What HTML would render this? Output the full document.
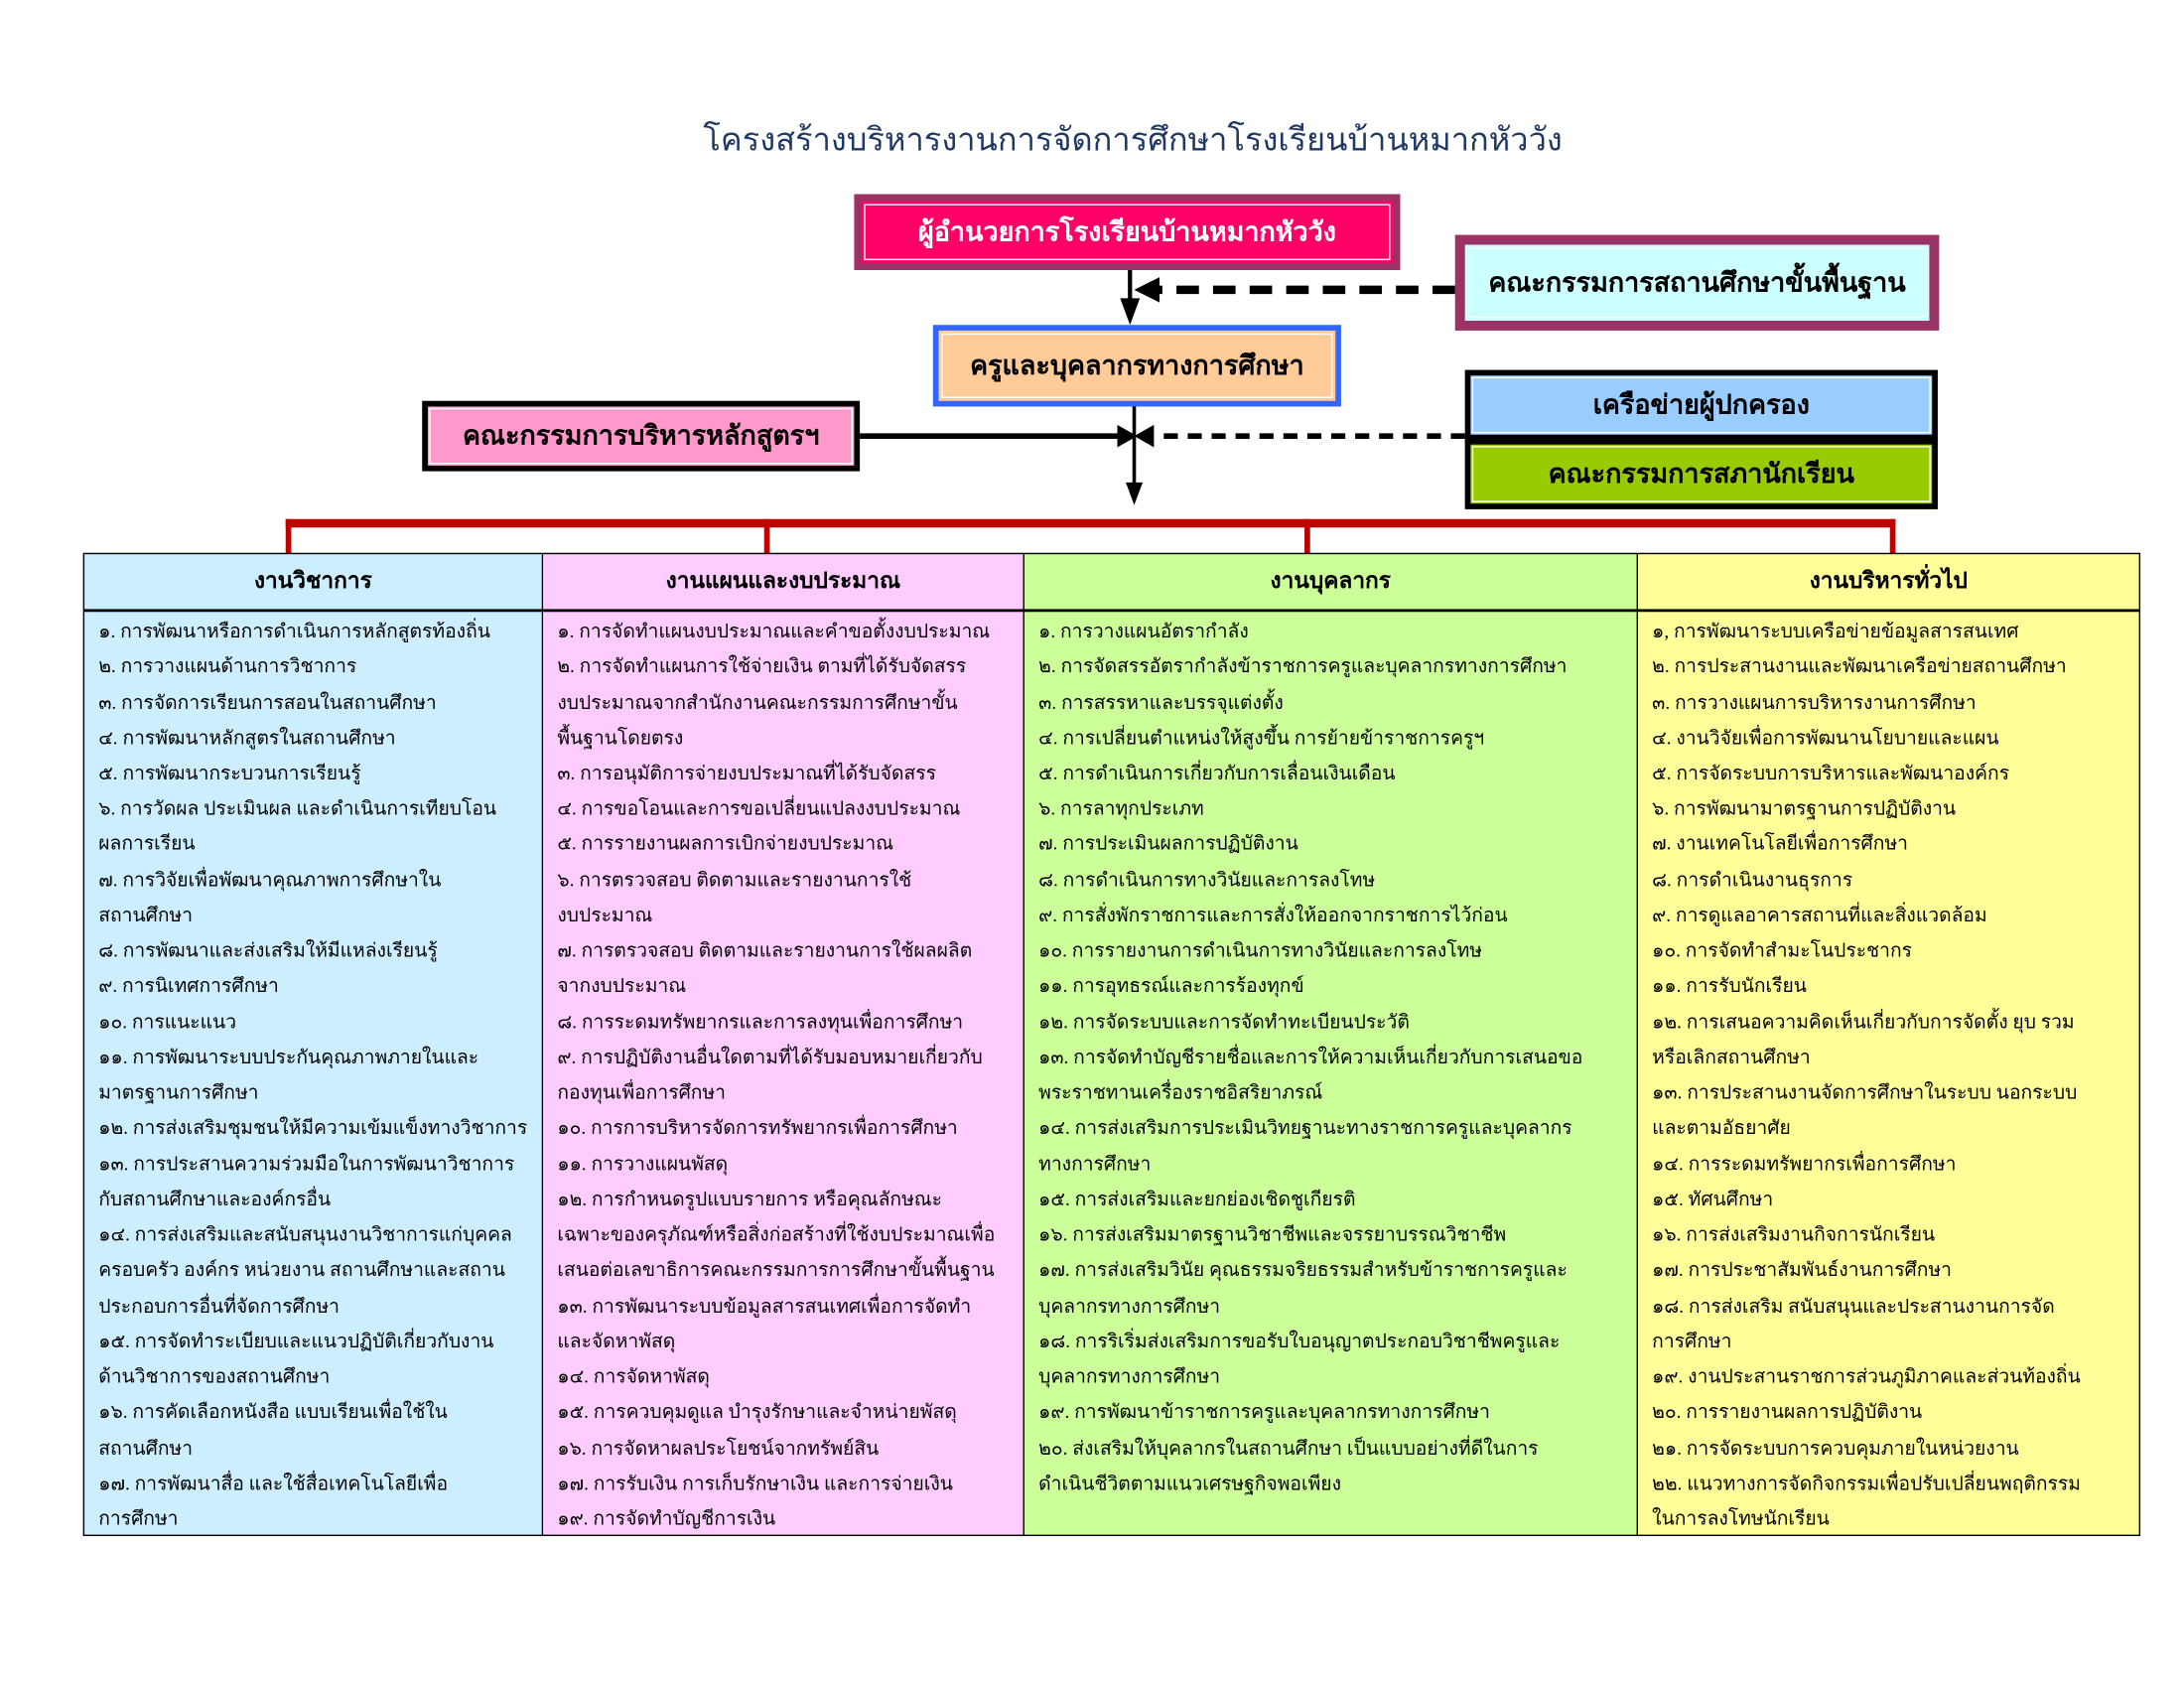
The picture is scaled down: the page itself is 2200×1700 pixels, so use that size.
<!DOCTYPE html>
<html><head><meta charset="utf-8">
<style>
html,body{margin:0;padding:0;background:#fff;}
body{width:2200px;height:1700px;overflow:hidden;position:relative;}
#s{position:absolute;left:0;top:0;width:1552px;height:1200px;transform:scale(1.41753,1.41667);transform-origin:0 0;font-family:"Liberation Serif","DejaVu Sans",serif;}
.a{position:absolute;}
.box{position:absolute;box-sizing:border-box;display:flex;align-items:center;justify-content:center;font-weight:bold;font-size:19px;white-space:nowrap;}
.col{position:absolute;top:394px;height:697px;box-sizing:border-box;}
.hd{position:absolute;left:0;right:0;top:0;height:39px;border-bottom:2px solid #000;text-align:center;line-height:40px;font-size:16px;font-weight:bold;}
.ln{position:absolute;left:10px;white-space:nowrap;font-size:13.6px;line-height:25.24px;height:25.24px;}
</style></head><body><div id="s">
<div class="a" style="left:0;top:82px;width:1610px;text-align:center;font-size:23px;color:#1f3864;">โครงสร้างบริหารงานการจัดการศึกษาโรงเรียนบ้านหมากหัววัง</div>

<div class="box" style="left:607px;top:138px;width:388px;height:54px;background:#ff0066;border:5px solid #993366;outline:1px solid #fff;outline-offset:-8px;color:#fff;">ผู้อำนวยการโรงเรียนบ้านหมากหัววัง</div>
<div class="box" style="left:1034px;top:167px;width:344px;height:68px;background:#ccffff;border:7px solid #993366;outline:1px solid #fff;outline-offset:-10px;color:#000;">คณะกรรมการสถานศึกษาขั้นพื้นฐาน</div>
<div class="box" style="left:663px;top:231px;width:290px;height:58px;background:#ffcc99;border:4px solid #3366ff;outline:1px solid #fff;outline-offset:-7px;">ครูและบุคลากรทางการศึกษา</div>
<div class="box" style="left:300px;top:285px;width:311px;height:50px;background:#ff99cc;border:4px solid #000;outline:1px solid #fff;outline-offset:-6px;">คณะกรรมการบริหารหลักสูตรฯ</div>
<div class="box" style="left:1041px;top:263px;width:336px;height:50px;background:#99ccff;border:4px solid #000;outline:1px solid #fff;outline-offset:-6px;">เครือข่ายผู้ปกครอง</div>
<div class="box" style="left:1041px;top:312px;width:336px;height:50px;background:#99cc00;border:4px solid #000;outline:1px solid #fff;outline-offset:-6px;">คณะกรรมการสภานักเรียน</div>

<svg class="a" style="left:0;top:0" width="1552" height="420">
<line x1="803" y1="192" x2="803" y2="214" stroke="#000" stroke-width="3"/>
<polygon points="796,212 810,212 803,231" fill="#000"/>
<line x1="1034" y1="206" x2="822" y2="206" stroke="#000" stroke-width="6" stroke-dasharray="16,10"/>
<polygon points="824,197 824,215 806,206" fill="#000"/>
<line x1="806" y1="289" x2="806" y2="345" stroke="#000" stroke-width="2.5"/>
<polygon points="800,343 812,343 806,359" fill="#000"/>
<line x1="611" y1="310" x2="796" y2="310" stroke="#000" stroke-width="4"/>
<polygon points="794,302 794,318 808,310" fill="#000"/>
<line x1="1041" y1="310" x2="822" y2="310" stroke="#000" stroke-width="4" stroke-dasharray="10,7"/>
<polygon points="820,302 820,318 806,310" fill="#000"/>
<line x1="203" y1="372" x2="1347" y2="372" stroke="#c00000" stroke-width="6"/>
<g stroke="#c00000" stroke-width="4"><line x1="205" y1="369" x2="205" y2="395"/><line x1="545" y1="369" x2="545" y2="395"/><line x1="929" y1="369" x2="929" y2="395"/><line x1="1345" y1="369" x2="1345" y2="395"/></g>
</svg>

<div class="a" style="left:59px;top:393px;width:1462px;height:699px;border:2px solid #000;box-sizing:border-box;"></div>

<div class="col" style="left:60px;width:326px;background:#cceeff;border-right:1px solid #000;">
<div class="hd">งานวิชาการ</div>
<div class="ln" style="top:42px">๑.  การพัฒนาหรือการดำเนินการหลักสูตรท้องถิ่น</div>
<div class="ln" style="top:67.2px">๒.  การวางแผนด้านการวิชาการ</div>
<div class="ln" style="top:92.5px">๓.  การจัดการเรียนการสอนในสถานศึกษา</div>
<div class="ln" style="top:117.7px">๔.  การพัฒนาหลักสูตรในสถานศึกษา</div>
<div class="ln" style="top:143px">๕.  การพัฒนากระบวนการเรียนรู้</div>
<div class="ln" style="top:168.2px">๖.  การวัดผล ประเมินผล และดำเนินการเทียบโอน</div>
<div class="ln" style="top:193.4px">ผลการเรียน</div>
<div class="ln" style="top:218.7px">๗.  การวิจัยเพื่อพัฒนาคุณภาพการศึกษาใน</div>
<div class="ln" style="top:243.9px">สถานศึกษา</div>
<div class="ln" style="top:269.2px">๘.  การพัฒนาและส่งเสริมให้มีแหล่งเรียนรู้</div>
<div class="ln" style="top:294.4px">๙.  การนิเทศการศึกษา</div>
<div class="ln" style="top:319.6px">๑๐.  การแนะแนว</div>
<div class="ln" style="top:344.9px">๑๑.  การพัฒนาระบบประกันคุณภาพภายในและ</div>
<div class="ln" style="top:370.1px">มาตรฐานการศึกษา</div>
<div class="ln" style="top:395.4px">๑๒.  การส่งเสริมชุมชนให้มีความเข้มแข็งทางวิชาการ</div>
<div class="ln" style="top:420.6px">๑๓.  การประสานความร่วมมือในการพัฒนาวิชาการ</div>
<div class="ln" style="top:445.8px">กับสถานศึกษาและองค์กรอื่น</div>
<div class="ln" style="top:471.1px">๑๔.  การส่งเสริมและสนับสนุนงานวิชาการแก่บุคคล</div>
<div class="ln" style="top:496.3px">ครอบครัว องค์กร หน่วยงาน สถานศึกษาและสถาน</div>
<div class="ln" style="top:521.6px">ประกอบการอื่นที่จัดการศึกษา</div>
<div class="ln" style="top:546.8px">๑๕.  การจัดทำระเบียบและแนวปฏิบัติเกี่ยวกับงาน</div>
<div class="ln" style="top:572px">ด้านวิชาการของสถานศึกษา</div>
<div class="ln" style="top:597.3px">๑๖.  การคัดเลือกหนังสือ แบบเรียนเพื่อใช้ใน</div>
<div class="ln" style="top:622.5px">สถานศึกษา</div>
<div class="ln" style="top:647.8px">๑๗.  การพัฒนาสื่อ และใช้สื่อเทคโนโลยีเพื่อ</div>
<div class="ln" style="top:673px">การศึกษา</div>
</div>

<div class="col" style="left:386px;width:342px;background:#ffccff;border-right:1px solid #000;">
<div class="hd">งานแผนและงบประมาณ</div>
<div class="ln" style="top:42px">๑.  การจัดทำแผนงบประมาณและคำขอตั้งงบประมาณ</div>
<div class="ln" style="top:67.2px">๒.  การจัดทำแผนการใช้จ่ายเงิน ตามที่ได้รับจัดสรร</div>
<div class="ln" style="top:92.5px">งบประมาณจากสำนักงานคณะกรรมการศึกษาขั้น</div>
<div class="ln" style="top:117.7px">พื้นฐานโดยตรง</div>
<div class="ln" style="top:143px">๓.  การอนุมัติการจ่ายงบประมาณที่ได้รับจัดสรร</div>
<div class="ln" style="top:168.2px">๔.  การขอโอนและการขอเปลี่ยนแปลงงบประมาณ</div>
<div class="ln" style="top:193.4px">๕.  การรายงานผลการเบิกจ่ายงบประมาณ</div>
<div class="ln" style="top:218.7px">๖.  การตรวจสอบ ติดตามและรายงานการใช้</div>
<div class="ln" style="top:243.9px">งบประมาณ</div>
<div class="ln" style="top:269.2px">๗.  การตรวจสอบ ติดตามและรายงานการใช้ผลผลิต</div>
<div class="ln" style="top:294.4px">จากงบประมาณ</div>
<div class="ln" style="top:319.6px">๘.  การระดมทรัพยากรและการลงทุนเพื่อการศึกษา</div>
<div class="ln" style="top:344.9px">๙.  การปฏิบัติงานอื่นใดตามที่ได้รับมอบหมายเกี่ยวกับ</div>
<div class="ln" style="top:370.1px">กองทุนเพื่อการศึกษา</div>
<div class="ln" style="top:395.4px">๑๐.  การการบริหารจัดการทรัพยากรเพื่อการศึกษา</div>
<div class="ln" style="top:420.6px">๑๑.  การวางแผนพัสดุ</div>
<div class="ln" style="top:445.8px">๑๒.  การกำหนดรูปแบบรายการ หรือคุณลักษณะ</div>
<div class="ln" style="top:471.1px">เฉพาะของครุภัณฑ์หรือสิ่งก่อสร้างที่ใช้งบประมาณเพื่อ</div>
<div class="ln" style="top:496.3px">เสนอต่อเลขาธิการคณะกรรมการการศึกษาขั้นพื้นฐาน</div>
<div class="ln" style="top:521.6px">๑๓.  การพัฒนาระบบข้อมูลสารสนเทศเพื่อการจัดทำ</div>
<div class="ln" style="top:546.8px">และจัดหาพัสดุ</div>
<div class="ln" style="top:572px">๑๔.  การจัดหาพัสดุ</div>
<div class="ln" style="top:597.3px">๑๕.  การควบคุมดูแล บำรุงรักษาและจำหน่ายพัสดุ</div>
<div class="ln" style="top:622.5px">๑๖.  การจัดหาผลประโยชน์จากทรัพย์สิน</div>
<div class="ln" style="top:647.8px">๑๗.  การรับเงิน การเก็บรักษาเงิน และการจ่ายเงิน</div>
<div class="ln" style="top:673px">๑๙.  การจัดทำบัญชีการเงิน</div>
</div>

<div class="col" style="left:728px;width:436px;background:#ccff99;border-right:1px solid #000;">
<div class="hd">งานบุคลากร</div>
<div class="ln" style="top:42px">๑.  การวางแผนอัตรากำลัง</div>
<div class="ln" style="top:67.2px">๒.  การจัดสรรอัตรากำลังข้าราชการครูและบุคลากรทางการศึกษา</div>
<div class="ln" style="top:92.5px">๓.  การสรรหาและบรรจุแต่งตั้ง</div>
<div class="ln" style="top:117.7px">๔.  การเปลี่ยนตำแหน่งให้สูงขึ้น การย้ายข้าราชการครูฯ</div>
<div class="ln" style="top:143px">๕.  การดำเนินการเกี่ยวกับการเลื่อนเงินเดือน</div>
<div class="ln" style="top:168.2px">๖.  การลาทุกประเภท</div>
<div class="ln" style="top:193.4px">๗.  การประเมินผลการปฏิบัติงาน</div>
<div class="ln" style="top:218.7px">๘.  การดำเนินการทางวินัยและการลงโทษ</div>
<div class="ln" style="top:243.9px">๙.  การสั่งพักราชการและการสั่งให้ออกจากราชการไว้ก่อน</div>
<div class="ln" style="top:269.2px">๑๐.  การรายงานการดำเนินการทางวินัยและการลงโทษ</div>
<div class="ln" style="top:294.4px">๑๑.  การอุทธรณ์และการร้องทุกข์</div>
<div class="ln" style="top:319.6px">๑๒.  การจัดระบบและการจัดทำทะเบียนประวัติ</div>
<div class="ln" style="top:344.9px">๑๓.  การจัดทำบัญชีรายชื่อและการให้ความเห็นเกี่ยวกับการเสนอขอ</div>
<div class="ln" style="top:370.1px">พระราชทานเครื่องราชอิสริยาภรณ์</div>
<div class="ln" style="top:395.4px">๑๔.  การส่งเสริมการประเมินวิทยฐานะทางราชการครูและบุคลากร</div>
<div class="ln" style="top:420.6px">ทางการศึกษา</div>
<div class="ln" style="top:445.8px">๑๕.  การส่งเสริมและยกย่องเชิดชูเกียรติ</div>
<div class="ln" style="top:471.1px">๑๖.  การส่งเสริมมาตรฐานวิชาชีพและจรรยาบรรณวิชาชีพ</div>
<div class="ln" style="top:496.3px">๑๗.  การส่งเสริมวินัย คุณธรรมจริยธรรมสำหรับข้าราชการครูและ</div>
<div class="ln" style="top:521.6px">บุคลากรทางการศึกษา</div>
<div class="ln" style="top:546.8px">๑๘.  การริเริ่มส่งเสริมการขอรับใบอนุญาตประกอบวิชาชีพครูและ</div>
<div class="ln" style="top:572px">บุคลากรทางการศึกษา</div>
<div class="ln" style="top:597.3px">๑๙.  การพัฒนาข้าราชการครูและบุคลากรทางการศึกษา</div>
<div class="ln" style="top:622.5px">๒๐. ส่งเสริมให้บุคลากรในสถานศึกษา เป็นแบบอย่างที่ดีในการ</div>
<div class="ln" style="top:647.8px">ดำเนินชีวิตตามแนวเศรษฐกิจพอเพียง</div>
</div>

<div class="col" style="left:1164px;width:356px;background:#ffff99;">
<div class="hd">งานบริหารทั่วไป</div>
<div class="ln" style="top:42px">๑,  การพัฒนาระบบเครือข่ายข้อมูลสารสนเทศ</div>
<div class="ln" style="top:67.2px">๒.  การประสานงานและพัฒนาเครือข่ายสถานศึกษา</div>
<div class="ln" style="top:92.5px">๓.  การวางแผนการบริหารงานการศึกษา</div>
<div class="ln" style="top:117.7px">๔.  งานวิจัยเพื่อการพัฒนานโยบายและแผน</div>
<div class="ln" style="top:143px">๕.  การจัดระบบการบริหารและพัฒนาองค์กร</div>
<div class="ln" style="top:168.2px">๖.  การพัฒนามาตรฐานการปฏิบัติงาน</div>
<div class="ln" style="top:193.4px">๗.  งานเทคโนโลยีเพื่อการศึกษา</div>
<div class="ln" style="top:218.7px">๘.  การดำเนินงานธุรการ</div>
<div class="ln" style="top:243.9px">๙.  การดูแลอาคารสถานที่และสิ่งแวดล้อม</div>
<div class="ln" style="top:269.2px">๑๐.  การจัดทำสำมะโนประชากร</div>
<div class="ln" style="top:294.4px">๑๑.  การรับนักเรียน</div>
<div class="ln" style="top:319.6px">๑๒.  การเสนอความคิดเห็นเกี่ยวกับการจัดตั้ง ยุบ รวม</div>
<div class="ln" style="top:344.9px">หรือเลิกสถานศึกษา</div>
<div class="ln" style="top:370.1px">๑๓.  การประสานงานจัดการศึกษาในระบบ นอกระบบ</div>
<div class="ln" style="top:395.4px">และตามอัธยาศัย</div>
<div class="ln" style="top:420.6px">๑๔.  การระดมทรัพยากรเพื่อการศึกษา</div>
<div class="ln" style="top:445.8px">๑๕.  ทัศนศึกษา</div>
<div class="ln" style="top:471.1px">๑๖.  การส่งเสริมงานกิจการนักเรียน</div>
<div class="ln" style="top:496.3px">๑๗.  การประชาสัมพันธ์งานการศึกษา</div>
<div class="ln" style="top:521.6px">๑๘.  การส่งเสริม สนับสนุนและประสานงานการจัด</div>
<div class="ln" style="top:546.8px">การศึกษา</div>
<div class="ln" style="top:572px">๑๙.  งานประสานราชการส่วนภูมิภาคและส่วนท้องถิ่น</div>
<div class="ln" style="top:597.3px">๒๐.  การรายงานผลการปฏิบัติงาน</div>
<div class="ln" style="top:622.5px">๒๑.  การจัดระบบการควบคุมภายในหน่วยงาน</div>
<div class="ln" style="top:647.8px">๒๒.  แนวทางการจัดกิจกรรมเพื่อปรับเปลี่ยนพฤติกรรม</div>
<div class="ln" style="top:673px">ในการลงโทษนักเรียน</div>
</div>
</div></body></html>
